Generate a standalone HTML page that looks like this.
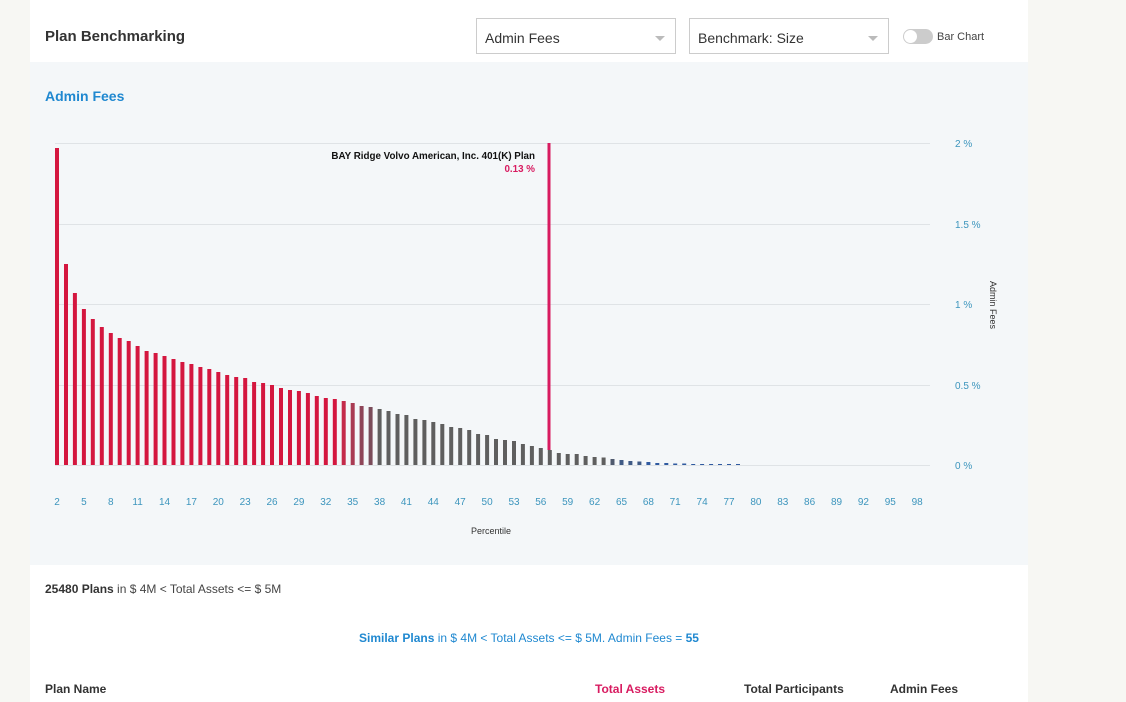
<!DOCTYPE html>
<html><head><meta charset="utf-8"><style>
body{margin:0;width:1126px;height:702px;background:#f7f7f3;font-family:"Liberation Sans",sans-serif;overflow:hidden;position:relative}
.card{position:absolute;left:30px;top:0;width:998px;height:702px;background:#fff}
.t{position:absolute;white-space:nowrap}
.sel{position:absolute;top:18px;height:36px;border:1px solid #ccc;box-sizing:border-box;background:#fff;font-size:14px;color:#333;padding:11px 0 0 8px}
.sel:after{content:"";position:absolute;right:10px;top:17px;border:5px solid transparent;border-top:5px solid #bbb;border-bottom:0}
.panel{position:absolute;left:30px;top:62px;width:998px;height:503px;background:#f4f7f9}
</style></head><body>
<div class="card"></div>
<div class="t" style="left:45px;top:28px;font-size:15px;font-weight:bold;color:#333">Plan Benchmarking</div>
<div class="sel" style="left:476px;width:200px">Admin Fees</div>
<div class="sel" style="left:689px;width:200px">Benchmark: Size</div>
<div style="position:absolute;left:903px;top:29px;width:30px;height:15px;border-radius:8px;background:#ccc"></div>
<div style="position:absolute;left:904px;top:30px;width:13px;height:13px;border-radius:7px;background:#fff"></div>
<div class="t" style="left:937px;top:31px;font-size:11px;color:#444">Bar Chart</div>
<div class="panel"></div>
<div class="t" style="left:45px;top:88px;font-size:14px;font-weight:bold;color:#1f88d0">Admin Fees</div>
<svg style="position:absolute;left:0;top:0" width="1126" height="702">
<g stroke="#dfe3e6" stroke-width="1">
<line x1="55" x2="930" y1="143.5" y2="143.5"/><line x1="55" x2="930" y1="224.5" y2="224.5"/><line x1="55" x2="930" y1="304.5" y2="304.5"/><line x1="55" x2="930" y1="385.5" y2="385.5"/><line x1="55" x2="930" y1="465.5" y2="465.5"/>
</g>
<g font-size="10" fill="#3c95bd" font-family="Liberation Sans,sans-serif">
<text x="955" y="147">2 %</text><text x="955" y="228">1.5 %</text><text x="955" y="308">1 %</text><text x="955" y="389">0.5 %</text><text x="955" y="469">0 %</text>
</g>
<text transform="translate(990,305) rotate(90)" font-size="9" fill="#333" text-anchor="middle" font-family="Liberation Sans,sans-serif">Admin Fees</text>
<g id="bars"></g>
<g font-size="10" fill="#3c95bd" text-anchor="middle" font-family="Liberation Sans,sans-serif" id="ticks"></g>
<text x="491" y="534" font-size="9" fill="#333" text-anchor="middle" font-family="Liberation Sans,sans-serif">Percentile</text>
<rect x="547.5" y="143" width="3" height="307" fill="#d81b60"/>
<text x="535" y="159" font-size="9.8" font-weight="bold" fill="#111" text-anchor="end" font-family="Liberation Sans,sans-serif">BAY Ridge Volvo American, Inc. 401(K) Plan</text>
<text x="535" y="172" font-size="9.8" font-weight="bold" fill="#d81b60" text-anchor="end" font-family="Liberation Sans,sans-serif">0.13 %</text>
</svg>
<div class="t" style="left:45px;top:582px;font-size:12px;color:#444"><b style="color:#333">25480 Plans</b> in $ 4M &lt; Total Assets &lt;= $ 5M</div>
<div class="t" style="left:359px;top:631px;font-size:12px;color:#1f88d0"><b>Similar Plans</b> in $ 4M &lt; Total Assets &lt;= $ 5M. Admin Fees = <b>55</b></div>
<div class="t" style="left:45px;top:682px;font-size:12px;font-weight:bold;color:#333">Plan Name</div>
<div class="t" style="left:595px;top:682px;font-size:12px;font-weight:bold;color:#d81b60">Total Assets</div>
<div class="t" style="left:744px;top:682px;font-size:12px;font-weight:bold;color:#333">Total Participants</div>
<div class="t" style="left:890px;top:682px;font-size:12px;font-weight:bold;color:#333">Admin Fees</div>
<script>
var tops=[148,264,293,309,319,327,333,338,341,346,351,353,356,359,362,364,367,369,372,375,377,378,382,383,385,388,390,391,393,396,398,399,401,403,406,407,409,411,414,415,419,420,422,424,427,428,430,434,435,439,440,441,444,446,448,450,453,454,454,456,457,457.5,459,460,461,461.5,462,463,463,463.5,463.5,464,464,464,464,464,464];
var s="";
function col(p){if(p<=33)return"#d4173f";var m={34:"#c42a4a",35:"#a93b53",36:"#8e4558",37:"#7a4c5a"};if(m[p])return m[p];if(p<=63)return"#5f5f5f";if(p==64)return"#4f5a6e";if(p<=67)return"#3f5a85";return"#2f5aa0";}
for(var i=0;i<tops.length;i++){var p=i+2;var x=55+(p-2)*8.96;var t=tops[i];s+='<rect x="'+x.toFixed(1)+'" y="'+t+'" width="4" height="'+(465-t)+'" fill="'+col(p)+'"/>';}
document.getElementById("bars").innerHTML=s;
var k="";for(var p=2;p<=98;p+=3){k+='<text x="'+(57+(p-2)*8.96).toFixed(1)+'" y="505">'+p+'</text>';}
document.getElementById("ticks").innerHTML=k;
</script>
</body></html>
